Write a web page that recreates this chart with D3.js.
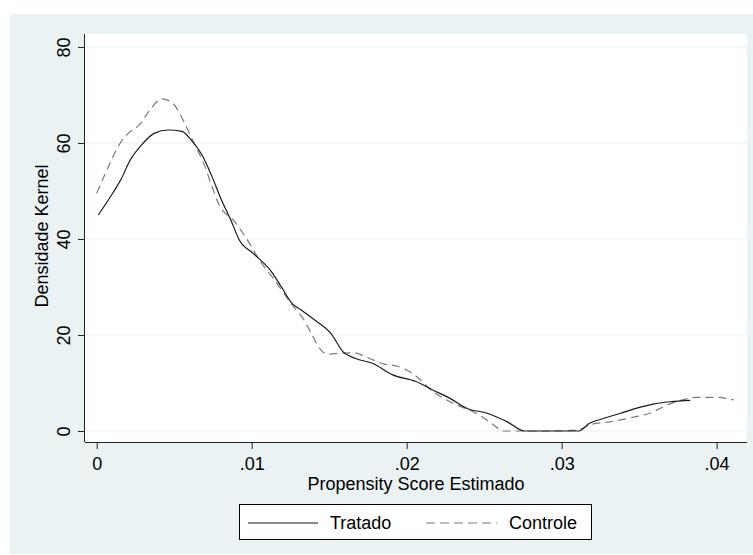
<!DOCTYPE html>
<html>
<head>
<meta charset="utf-8">
<script src="https://cdn.jsdelivr.net/npm/d3@7"></script>
<style>
  body { margin: 0; background: #fff; }
  text { font-family: "Liberation Sans", Arial, sans-serif; fill: #000; }
</style>
</head>
<body>
<div id="wrapper"></div>
<script>
// densidade kernel do propensity score
var tratadoX = [0.0001, 0.0011, 0.0016, 0.0021, 0.0029, 0.0037, 0.0046, 0.0055, 0.0061, 0.0068,
  0.0074, 0.0080, 0.0087, 0.0092, 0.0101, 0.0112, 0.0119, 0.0126, 0.0132, 0.0142,
  0.0151, 0.0159, 0.0167, 0.0178, 0.0191, 0.0206, 0.0217, 0.0228, 0.0239, 0.0252,
  0.0265, 0.0276, 0.0290, 0.0311, 0.0318, 0.0327, 0.0338, 0.0348, 0.0359, 0.0370, 0.0383];
var tratadoY = [45.0, 49.9, 52.6, 56.1, 59.6, 62.0, 62.7, 62.4, 60.6, 57.5,
  53.3, 48.5, 43.6, 39.8, 37.0, 33.5, 30.1, 26.6, 25.2, 22.8,
  20.4, 16.5, 15.1, 14.1, 11.7, 10.3, 8.5, 6.8, 4.7, 3.7,
  1.9, 0, 0, 0, 1.6, 2.6, 3.7, 4.7, 5.6, 6.1, 6.4];

var controleX = [0.0000, 0.0007, 0.0015, 0.0021, 0.0027, 0.0034, 0.0042, 0.0049, 0.0056, 0.0063,
  0.0069, 0.0074, 0.0079, 0.0089, 0.0098, 0.0105, 0.0114, 0.0127, 0.0133, 0.0139,
  0.0143, 0.0149, 0.0157, 0.0166, 0.0174, 0.0185, 0.0194, 0.0205, 0.0217, 0.0228,
  0.0247, 0.0256, 0.0262, 0.0290, 0.0310, 0.0318, 0.0331, 0.0348, 0.0357, 0.0368,
  0.0376, 0.0387, 0.0400, 0.0411];
var controleY = [49.5, 54.7, 59.9, 62.2, 63.6, 66.7, 69.2, 68.3, 64.6, 59.8,
  55.8, 51.3, 47.1, 43.6, 39.4, 35.6, 31.8, 25.9, 23.5, 20.0,
  17.6, 16.0, 16.2, 16.3, 15.4, 14.0, 13.5, 11.7, 8.2, 6.1,
  3.3, 1.3, 0, 0, 0.2, 1.3, 1.9, 3.0, 3.7, 5.4,
  6.3, 7.0, 7.0, 6.5];

var xTicks = [0, 0.01, 0.02, 0.03, 0.04];
var xTickLabels = ["0", ".01", ".02", ".03", ".04"];
var yTicks = [0, 20, 40, 60, 80];

var seriesNames = ["Tratado", "Controle"];

var W = 753, H = 555;
var bg = "#eaf2f3";
var fs = 18;

var svg = d3.select("#wrapper").append("svg")
    .attr("width", W)
    .attr("height", H);

// fundo externo
svg.append("rect")
    .attr("x", 10).attr("y", 14)
    .attr("width", W - 10).attr("height", 540)
    .attr("fill", bg);

// area do grafico
var plotL = 85, plotR = 747, plotT = 34, plotB = 442;
svg.append("rect")
    .attr("x", plotL).attr("y", plotT)
    .attr("width", plotR - plotL).attr("height", plotB - plotT)
    .attr("fill", "#fff");

var x = d3.scaleLinear()
    .domain([-0.000755, 0.04196])
    .range([plotL, plotR]);

var y = d3.scaleLinear()
    .domain([-2.29, 82.7])
    .range([plotB, plotT]);

// grade
svg.append("g").selectAll("line")
    .data(yTicks)
  .enter().append("line")
    .attr("x1", plotL).attr("x2", plotR)
    .attr("y1", function(d) { return y(d); })
    .attr("y2", function(d) { return y(d); })
    .attr("stroke", bg)
    .attr("stroke-width", 1.2);

// linhas
var line = d3.line()
    .x(function(d) { return x(d[0]); })
    .y(function(d) { return y(d[1]); })
    .curve(d3.curveMonotoneX);

var tratado = tratadoX.map(function(v, i) { return [v, tratadoY[i]]; });
var controle = controleX.map(function(v, i) { return [v, controleY[i]]; });

svg.append("path")
    .datum(controle)
    .attr("d", line)
    .attr("fill", "none")
    .attr("stroke", "#7a7a7a")
    .attr("stroke-width", 1.2)
    .attr("stroke-dasharray", "8,5");

svg.append("path")
    .datum(tratado)
    .attr("d", line)
    .attr("fill", "none")
    .attr("stroke", "#1a1a1a")
    .attr("stroke-width", 1.2);

// eixo x
var xAxis = d3.axisBottom(x)
    .tickValues(xTicks)
    .tickFormat(function(d, i) { return xTickLabels[i]; })
    .tickSize(7)
    .tickPadding(6)
    .tickSizeOuter(0);

var gx = svg.append("g")
    .attr("transform", "translate(0," + plotB + ")")
    .call(xAxis);
gx.select(".domain").attr("stroke", "#222").attr("d", "M" + plotL + ",0.5H" + plotR);
gx.selectAll(".tick line").attr("stroke", "#222");
gx.selectAll(".tick text")
    .attr("font-size", fs)
    .attr("font-family", "Liberation Sans, Arial, sans-serif")
    .attr("dy", null)
    .attr("y", 28);

// eixo y
var yAxis = d3.axisLeft(y)
    .tickValues(yTicks)
    .tickSize(7)
    .tickSizeOuter(0);

var gy = svg.append("g")
    .attr("transform", "translate(" + plotL + ",0)")
    .call(yAxis);
gy.select(".domain").attr("stroke", "#222").attr("d", "M-0.5," + plotT + "V" + plotB);
gy.selectAll(".tick line").attr("stroke", "#222");
gy.selectAll(".tick text")
    .attr("font-size", fs)
    .attr("font-family", "Liberation Sans, Arial, sans-serif")
    .attr("x", null).attr("dy", null)
    .attr("text-anchor", "middle")
    .attr("transform", "translate(-15.5,0) rotate(-90)");

// titulos dos eixos
svg.append("text")
    .attr("x", (plotL + plotR) / 2)
    .attr("y", 490)
    .attr("text-anchor", "middle")
    .attr("font-size", fs)
    .text("Propensity Score Estimado");

svg.append("text")
    .attr("transform", "translate(48," + ((plotT + plotB) / 2 - 2) + ") rotate(-90)")
    .attr("text-anchor", "middle")
    .attr("font-size", fs)
    .text("Densidade Kernel");

// legenda
var leg = svg.append("g");
leg.append("rect")
    .attr("x", 239.5).attr("y", 504.5)
    .attr("width", 352).attr("height", 35)
    .attr("fill", "#fff")
    .attr("stroke", "#000")
    .attr("stroke-width", 1);

leg.append("line")
    .attr("x1", 248).attr("x2", 318)
    .attr("y1", 523).attr("y2", 523)
    .attr("stroke", "#1a1a1a").attr("stroke-width", 1.2);
leg.append("text")
    .attr("x", 330).attr("y", 529)
    .attr("font-size", fs)
    .text(seriesNames[0]);

leg.append("line")
    .attr("x1", 426).attr("x2", 497)
    .attr("y1", 523).attr("y2", 523)
    .attr("stroke", "#7a7a7a").attr("stroke-width", 1.2)
    .attr("stroke-dasharray", "9,5");
leg.append("text")
    .attr("x", 509).attr("y", 529)
    .attr("font-size", fs)
    .text(seriesNames[1]);
</script>
</body>
</html>
